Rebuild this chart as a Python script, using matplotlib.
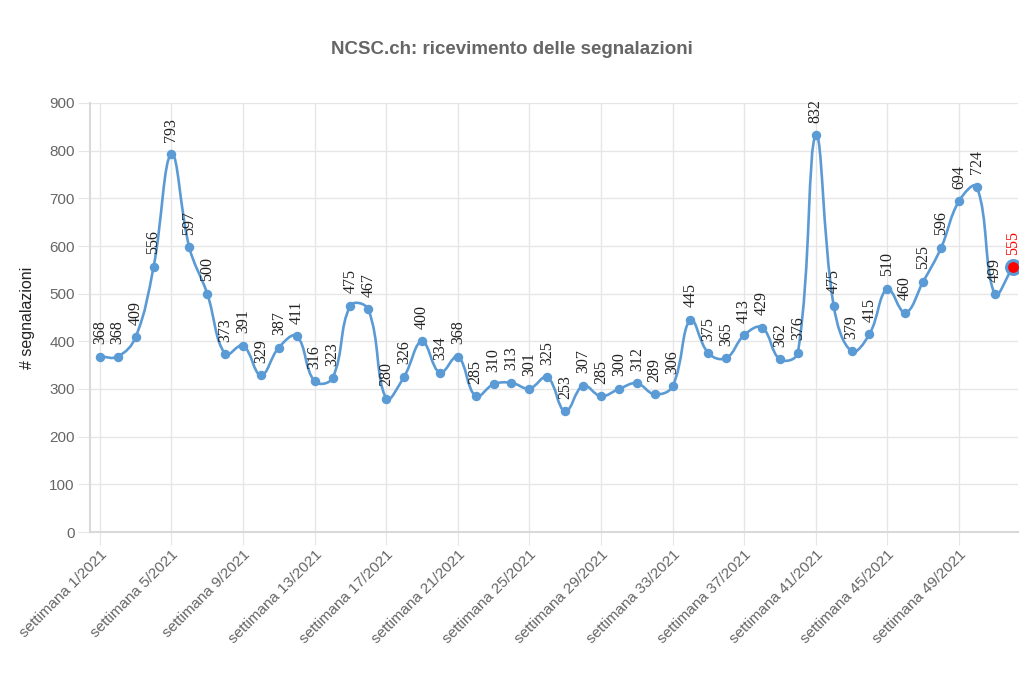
import numpy as np
import matplotlib
matplotlib.use("Agg")
import matplotlib.pyplot as plt
from matplotlib.path import Path
from matplotlib.patches import PathPatch

weeks = list(range(1, 53))
values = [368, 368, 409, 556, 793, 597, 500, 373, 391, 329, 387, 411, 316, 323,
          475, 467, 280, 326, 400, 334, 368, 285, 310, 313, 301, 325, 253, 307,
          285, 300, 312, 289, 306, 445, 375, 365, 413, 429, 362, 376, 832, 475,
          379, 415, 510, 460, 525, 596, 694, 724, 499, 555]
labels = [f"settimana {w}/2021" for w in weeks]
yticks = list(range(0, 1000, 100))

title = "NCSC.ch: ricevimento delle segnalazioni"
ylabel = "# segnalazioni"
line_color = "#5b9bd5"
grid_color = "#e6e6e6"
text_gray = "#666666"

W, H = 1024, 677
fig = plt.figure(figsize=(W / 100, H / 100), dpi=100)
left, right, bottom, top = 90, 1018, 532, 103
ax = fig.add_axes([left / W, 1 - bottom / H, (right - left) / W, (bottom - top) / H])

x = np.arange(len(values), dtype=float)
y = np.array(values, dtype=float)
xlim = (-0.55, 51.3)
ylim = (0, 900)
ax.set_xlim(*xlim)
ax.set_ylim(*ylim)

# Chart.js-like bezier smoothing (tension 0.4) computed in pixel space
sx = (right - left) / (xlim[1] - xlim[0])
sy = (bottom - top) / (ylim[1] - ylim[0])
px, py = x * sx, y * sy
t = 0.4
n = len(x)
cp_prev = np.zeros((n, 2)); cp_next = np.zeros((n, 2))
for i in range(n):
    p = np.array([px[max(i - 1, 0)], py[max(i - 1, 0)]])
    c = np.array([px[i], py[i]])
    q = np.array([px[min(i + 1, n - 1)], py[min(i + 1, n - 1)]])
    d01 = np.hypot(*(c - p)); d12 = np.hypot(*(q - c))
    tot = d01 + d12
    s01 = d01 / tot if tot else 0
    s12 = d12 / tot if tot else 0
    cp_prev[i] = c - t * s01 * (q - p)
    cp_next[i] = c + t * s12 * (q - p)
verts = [(x[0], y[0])]
codes = [Path.MOVETO]
for i in range(n - 1):
    verts += [(cp_next[i][0] / sx, cp_next[i][1] / sy),
              (cp_prev[i + 1][0] / sx, cp_prev[i + 1][1] / sy),
              (x[i + 1], y[i + 1])]
    codes += [Path.CURVE4] * 3
ax.add_patch(PathPatch(Path(verts, codes), facecolor="none", edgecolor=line_color,
                       lw=1.9, zorder=3))

ax.plot(x[:-1], y[:-1], "o", color=line_color, ms=5.8, zorder=4)
ax.plot(x[-1], y[-1], "o", color="red", mec=line_color, mew=2.2, ms=10, zorder=5)

for i, v in enumerate(values):
    col = "red" if i == n - 1 else "#222222"
    ax.annotate(str(v), (x[i], y[i]), xytext=(0, 9), textcoords="offset points",
                rotation=90, ha="center", va="bottom", fontsize=11.5,
                family="Liberation Serif", color=col, zorder=6)

tick_idx = list(range(0, n, 4))
ax.set_xticks(tick_idx)
ax.set_xticklabels([labels[i] for i in tick_idx], rotation=45, ha="right",
                   rotation_mode="anchor", fontsize=11, color=text_gray,
                   family="Liberation Sans")
ax.set_yticks(yticks)
ax.set_yticklabels([str(v) for v in yticks], fontsize=11, color=text_gray,
                   family="Liberation Sans")
ax.tick_params(axis="x", length=9, color=grid_color, pad=2)
ax.tick_params(axis="y", length=9, color=grid_color, pad=2)
ax.grid(True, color=grid_color, lw=1)
ax.set_axisbelow(True)
for s in ["top", "right"]:
    ax.spines[s].set_visible(False)
for s in ["left", "bottom"]:
    ax.spines[s].set_color("#d9d9d9")
    ax.spines[s].set_linewidth(1.5)

ax.set_ylabel(ylabel, fontsize=11.5, family="Liberation Sans", color="#222222", labelpad=10)
fig.text(512 / W, 1 - 50 / H, title, ha="center", va="center", fontsize=13.5,
         fontweight="bold", color=text_gray, family="Liberation Sans")

fig.savefig("out.png", dpi=100, facecolor="white")
